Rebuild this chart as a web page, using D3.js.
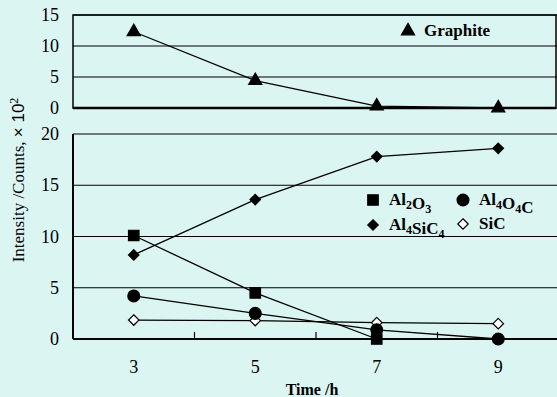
<!DOCTYPE html>
<html>
<head>
<meta charset="utf-8">
<script src="https://cdn.jsdelivr.net/npm/d3@7"></script>
</head>
<body style="margin:0;background:#dbf5f3">
<div id="chart"></div>
<script>
//x values (hours)
const times = [3, 5, 7, 9];
const xTickLabels = ["3", "5", "7", "9"];
const minorTicks = [4, 6, 8];

//top panel
const graphite = [12.3, 4.4, 0.3, 0];
const topTicks = [0, 5, 10, 15];

//bottom panel
const al2o3 = [10.1, 4.5, 0];
const al4o4c = [4.2, 2.5, 0.9, 0];
const al4sic4 = [8.2, 13.6, 17.8, 18.6];
const sic = [1.85, 1.8, 1.6, 1.5];
const bottomTicks = [0, 5, 10, 15, 20];

const width = 557;
const height = 397;
const left = 73;
const right = 556;
const serif = "Liberation Serif";

const svg = d3
  .select("#chart")
  .append("svg")
  .attr("width", width)
  .attr("height", height)
  .style("display", "block");

svg.append("rect").attr("width", width).attr("height", height).attr("fill", "#dbf5f3");

//scales
const x = d3.scaleLinear().domain([2, 10]).range([left, 559]);
const yTop = d3.scaleLinear().domain([0, 15]).range([108, 15]);
const yBot = d3.scaleLinear().domain([0, 20]).range([339, 134]);

//gridlines + tick labels
function panel(y, ticks) {
  const g = svg.append("g");
  g.selectAll("line.grid")
    .data(ticks)
    .join("line")
    .attr("class", "grid")
    .attr("x1", left)
    .attr("x2", 557)
    .attr("y1", (d) => y(d))
    .attr("y2", (d) => y(d))
    .attr("stroke", "#000")
    .attr("stroke-width", 1.2);
  g.selectAll("text")
    .data(ticks)
    .join("text")
    .attr("x", 59)
    .attr("y", (d) => y(d) + 6)
    .attr("text-anchor", "end")
    .style("font-family", serif)
    .attr("font-size", 18)
    .text((d) => d);
  return g;
}

panel(yTop, topTicks);
panel(yBot, bottomTicks);

//top panel frame
svg.append("rect")
  .attr("x", left)
  .attr("y", yTop(15))
  .attr("width", right - left)
  .attr("height", yTop(0) - yTop(15))
  .attr("fill", "none")
  .attr("stroke", "#000")
  .attr("stroke-width", 1.5);
svg.append("line")
  .attr("x1", left).attr("x2", right)
  .attr("y1", yTop(0)).attr("y2", yTop(0))
  .attr("stroke", "#000").attr("stroke-width", 2.5);

//bottom panel axes
svg.append("line")
  .attr("x1", left).attr("x2", left)
  .attr("y1", yBot(20)).attr("y2", yBot(0))
  .attr("stroke", "#000").attr("stroke-width", 2);
svg.append("line")
  .attr("x1", left).attr("x2", 557)
  .attr("y1", yBot(0)).attr("y2", yBot(0))
  .attr("stroke", "#000").attr("stroke-width", 2);

//minor ticks on time axis
svg.selectAll("line.minor")
  .data(minorTicks)
  .join("line")
  .attr("class", "minor")
  .attr("x1", (d) => x(d))
  .attr("x2", (d) => x(d))
  .attr("y1", yBot(0))
  .attr("y2", yBot(0) - 7)
  .attr("stroke", "#000")
  .attr("stroke-width", 1.2);

//x tick labels
svg.selectAll("text.xtick")
  .data(times)
  .join("text")
  .attr("class", "xtick")
  .attr("x", (d) => x(d))
  .attr("y", 373)
  .attr("text-anchor", "middle")
  .style("font-family", serif)
  .attr("font-size", 18)
  .text((d, i) => xTickLabels[i]);

//axis titles
svg.append("text")
  .attr("x", 312)
  .attr("y", 395)
  .attr("text-anchor", "middle")
  .style("font-family", serif)
  .attr("font-size", 16)
  .attr("font-weight", "bold")
  .text("Time /h");

const yTitle = svg.append("text")
  .attr("transform", "translate(24,180) rotate(-90)")
  .attr("text-anchor", "middle")
  .style("font-family", serif)
  .attr("font-size", 17);
yTitle.append("tspan").text("Intensity /Counts, ");
yTitle.append("tspan").style("font-family", "Liberation Sans").text("\u00d7 10");
yTitle.append("tspan").attr("dy", -6).attr("font-size", 12).text("2");

//markers
const sym = {
  triangle: d3.symbol().type(d3.symbolTriangle).size(75),
  square: d3.symbol().type(d3.symbolSquare).size(110),
  circle: d3.symbol().type(d3.symbolCircle).size(110),
  diamond: d3.symbol().type(d3.symbolDiamond2).size(70),
};

function series(vals, y, type, fill) {
  const pts = vals.map((v, i) => [x(times[i]), y(v)]);
  svg.append("path")
    .attr("d", d3.line()(pts))
    .attr("fill", "none")
    .attr("stroke", "#000")
    .attr("stroke-width", 1.3);
  svg.append("g")
    .selectAll("path")
    .data(pts)
    .join("path")
    .attr("transform", (d) => `translate(${d[0]},${d[1]})`)
    .attr("d", sym[type]())
    .attr("fill", fill)
    .attr("stroke", "#000")
    .attr("stroke-width", 1.2);
}

series(graphite, yTop, "triangle", "#000");
series(sic, yBot, "diamond", "#fff");
series(al4o4c, yBot, "circle", "#000");
series(al4sic4, yBot, "diamond", "#000");
series(al2o3, yBot, "square", "#000");

//legends
function legendItem(cx, cy, type, fill, parts) {
  svg.append("path")
    .attr("transform", `translate(${cx},${cy})`)
    .attr("d", sym[type]())
    .attr("fill", fill)
    .attr("stroke", "#000")
    .attr("stroke-width", 1.2);
  const t = svg.append("text")
    .attr("x", cx + 16)
    .attr("y", cy + 5)
    .style("font-family", serif)
    .attr("font-size", 17)
    .attr("font-weight", "bold");
  parts.forEach(([s, sub]) => {
    if (sub) {
      t.append("tspan").attr("dy", 4).attr("font-size", 12).text(s);
      t.append("tspan").attr("dy", -4).text("");
    } else {
      t.append("tspan").text(s);
    }
  });
}

legendItem(408, 31, "triangle", "#000", [["Graphite"]]);
legendItem(373, 200, "square", "#000", [["Al"], ["2", 1], ["O"], ["3", 1]]);
legendItem(463, 200, "circle", "#000", [["Al"], ["4", 1], ["O"], ["4", 1], ["C"]]);
legendItem(373, 225, "diamond", "#000", [["Al"], ["4", 1], ["SiC"], ["4", 1]]);
legendItem(463, 224, "diamond", "#fff", [["SiC"]]);
</script>
</body>
</html>
